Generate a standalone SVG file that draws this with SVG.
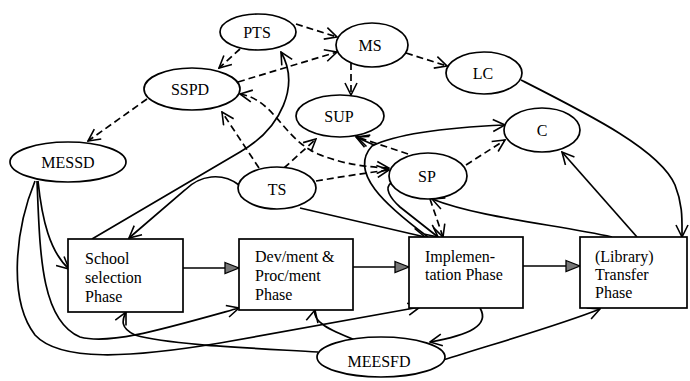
<svg xmlns="http://www.w3.org/2000/svg" width="690" height="381" viewBox="0 0 690 381">
<style>
.n ellipse,.n rect{fill:#fff;stroke:#000;stroke-width:1.7}
text{font-family:"Liberation Serif","Times New Roman",serif;font-size:16px;fill:#000}
.c{text-anchor:middle}
.s,.d{fill:none;stroke:#000;stroke-width:1.7}
.d{stroke-dasharray:7 4}
.s,.d{marker-end:url(#a)}
.b{fill:none;stroke:#000;stroke-width:1.7;marker-end:url(#t)}
</style>
<defs>
<marker id="a" viewBox="0 0 14 14" refX="13" refY="7" markerWidth="14" markerHeight="14" markerUnits="userSpaceOnUse" orient="auto-start-reverse">
<path d="M1,1 L13,7 L1,13" fill="none" stroke="#000" stroke-width="1.6"/>
</marker>
<marker id="t" viewBox="0 0 16 14" refX="15" refY="7" markerWidth="16" markerHeight="14" markerUnits="userSpaceOnUse" orient="auto">
<path d="M1,1.5 L15,7 L1,12.5 Z" fill="#777" stroke="#000" stroke-width="1.3"/>
</marker>
</defs>
<rect width="690" height="381" fill="#fff"/>
<g id="connectors">
<path class="d" d="M296 24 L337 37"/>
<path class="d" d="M238 82 L337 52"/>
<path class="d" d="M240 49 L219 68"/>
<path class="d" d="M406 53 L447 66"/>
<path class="d" d="M351 63 L351 95"/>
<path class="d" d="M147 99 L88 141"/>
<path class="d" d="M259 168 L222 112"/>
<path class="d" d="M284 168 L316 139"/>
<path class="d" style="marker-start:url(#a)" d="M240 94 C275 100 282 138 318 154 C345 165 368 167 389 168"/>
<path class="d" d="M316 181 C340 177 365 173 389 170"/>
<path class="d" d="M408 154 L357 137"/>
<path class="d" d="M466 165 L505 140"/>
<path class="d" d="M430 199 L443 237"/>
<path class="s" d="M521 80 C590 115 660 150 675 185 C683 205 682 220 682 237"/>
<path class="s" d="M637 237 L562 152"/>
<path class="s" d="M612 237 C560 225 480 218 432 199"/>
<path class="s" d="M428 237 C385 205 348 172 372 146 C400 132 460 127 505 125"/>
<path class="s" d="M374 145 L356 137"/>
<path class="s" d="M391 183 C384 188 390 198 400 207 L438 237"/>
<path class="s" d="M300 208 L425 237"/>
<path class="s" d="M92 239 L240 152 C282 128 300 85 281 52"/>
<path class="s" d="M239 185 C222 172 200 175 185 190 L129 238"/>
<path class="s" d="M38 181 C42 220 50 252 69 269"/>
<path class="s" d="M37 181 C40 250 40 320 80 337 C110 345 160 330 239 308"/>
<path class="s" d="M35 181 C15 230 8 300 35 335 C60 362 130 358 220 343 L420 307"/>
<path class="s" d="M318 352 C250 348 170 345 135 335 C120 328 122 320 126 312"/>
<path class="s" d="M355 340 C330 330 312 322 315 310"/>
<path class="s" d="M480 308 C490 325 470 335 430 342"/>
<path class="s" d="M443 360 C500 342 560 325 600 309"/>
<path class="b" d="M183 268 L239 268"/>
<path class="b" d="M353 267 L409 267"/>
<path class="b" d="M523 266 L580 266"/>
</g>
<g id="PTS" class="n"><ellipse cx="258" cy="32" rx="38" ry="18"/><text class="c" x="257" y="38">PTS</text></g>
<g id="MS" class="n"><ellipse cx="372" cy="45" rx="36" ry="22"/><text class="c" x="370" y="51">MS</text></g>
<g id="LC" class="n"><ellipse cx="484" cy="73" rx="38" ry="21"/><text class="c" x="483" y="79">LC</text></g>
<g id="SSPD" class="n"><ellipse cx="192" cy="89" rx="48" ry="21"/><text class="c" x="190" y="95">SSPD</text></g>
<g id="SUP" class="n"><ellipse cx="340" cy="116" rx="44" ry="21"/><text class="c" x="339" y="122">SUP</text></g>
<g id="C" class="n"><ellipse cx="542" cy="130" rx="38" ry="22"/><text class="c" x="542" y="136">C</text></g>
<g id="MESSD" class="n"><ellipse cx="68" cy="162" rx="58" ry="20"/><text class="c" x="68" y="168">MESSD</text></g>
<g id="TS" class="n"><ellipse cx="277" cy="188" rx="39" ry="21"/><text class="c" x="277" y="195">TS</text></g>
<g id="SP" class="n"><ellipse cx="428" cy="176" rx="39" ry="23"/><text class="c" x="427" y="182">SP</text></g>
<g id="MEESFD" class="n"><ellipse cx="381" cy="357" rx="64" ry="20"/><text class="c" x="379" y="367">MEESFD</text></g>
<g id="School" class="n"><rect x="68" y="239" width="115" height="73"/><text x="85" y="264">School</text><text x="85" y="283">selection</text><text x="85" y="302">Phase</text></g>
<g id="Dev" class="n"><rect x="239" y="239" width="114" height="71"/><text x="255" y="262">Dev/ment &amp;</text><text x="255" y="281">Proc/ment</text><text x="255" y="300">Phase</text></g>
<g id="Impl" class="n"><rect x="409" y="237" width="114" height="71"/><text x="425" y="262">Implemen-</text><text x="425" y="280">tation Phase</text></g>
<g id="Transfer" class="n"><rect x="580" y="237" width="107" height="71"/><text x="595" y="262">(Library)</text><text x="595" y="280">Transfer</text><text x="595" y="298">Phase</text></g>
</svg>
